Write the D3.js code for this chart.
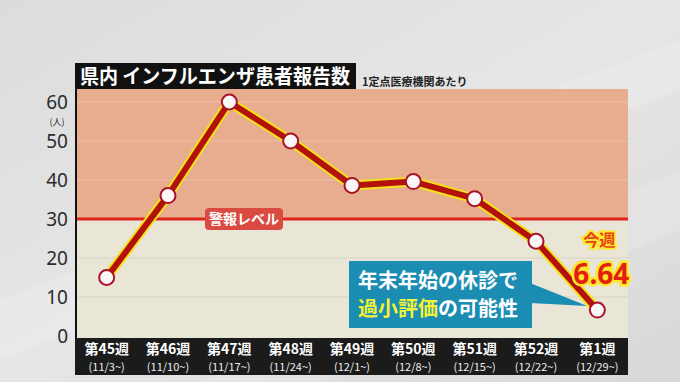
<!DOCTYPE html>
<html>
<head>
<meta charset="utf-8">
<script src="https://cdn.jsdelivr.net/npm/d3@7"></script>
<style>
  body { margin: 0; }
  svg { display: block; font-family: "Noto Sans CJK JP", "Noto Sans", sans-serif; }
</style>
</head>
<body>
<div id="chart"></div>
<script>
const weeks = ['第45週', '第46週', '第47週', '第48週', '第49週', '第50週', '第51週', '第52週', '第1週']
const dates = ['(11/3~)', '(11/10~)', '(11/17~)', '(11/24~)', '(12/1~)', '(12/8~)', '(12/15~)', '(12/22~)', '(12/29~)']
const cases = [15, 36, 60, 50, 38.6, 39.6, 35.2, 24.3, 6.64]
const yTicks = [0, 10, 20, 30, 40, 50, 60]
const alertLevel = 30

const W = 680, H = 382
const plot = {left: 76, right: 628, top: 89, bottom: 338}

const svg = d3.select('#chart').append('svg')
  .attr('width', W).attr('height', H)

const defs = svg.append('defs')
const bg = defs.append('linearGradient').attr('id', 'bg')
  .attr('x1', 0).attr('y1', 0).attr('x2', 1).attr('y2', 1)
bg.append('stop').attr('offset', 0).attr('stop-color', '#dcdcdc')
bg.append('stop').attr('offset', 0.5).attr('stop-color', '#e6e6e6')
bg.append('stop').attr('offset', 1).attr('stop-color', '#d8d8d8')

svg.append('rect').attr('width', W).attr('height', H).attr('fill', 'url(#bg)')
// soft diagonal streaks in the backdrop
svg.append('path').attr('d', 'M0,300 L680,40 L680,90 L0,360 Z').attr('fill', '#fff').attr('opacity', 0.18)
svg.append('path').attr('d', 'M200,382 L680,170 L680,230 L320,382 Z').attr('fill', '#fff').attr('opacity', 0.15)

const x = d3.scaleBand()
  .domain(weeks)
  .range([plot.left, plot.right])

const y = d3.scaleLinear()
  .domain([0, 60])
  .range([336, 102])

// background bands
svg.append('rect')
  .attr('x', plot.left).attr('width', plot.right - plot.left)
  .attr('y', plot.top).attr('height', y(alertLevel) - plot.top)
  .attr('fill', '#e8ad8f')
svg.append('rect')
  .attr('x', plot.left).attr('width', plot.right - plot.left)
  .attr('y', y(alertLevel)).attr('height', plot.bottom - y(alertLevel))
  .attr('fill', '#e9e5d7')

// gridlines
svg.append('g')
  .selectAll('line')
  .data(yTicks.filter(t => t !== 0 && t !== alertLevel))
  .join('line')
  .attr('x1', plot.left).attr('x2', plot.right)
  .attr('y1', d => y(d)).attr('y2', d => y(d))
  .attr('stroke', d => d > alertLevel ? '#eebfa6' : '#d9d5c6')
  .attr('stroke-width', 1.2)

// alert line
svg.append('line')
  .attr('x1', plot.left).attr('x2', plot.right)
  .attr('y1', y(alertLevel)).attr('y2', y(alertLevel))
  .attr('stroke', '#e0231b').attr('stroke-width', 3)

const alertG = svg.append('g').attr('transform', `translate(244, ${y(alertLevel)})`)
alertG.append('rect')
  .attr('x', -39).attr('y', -11).attr('width', 78).attr('height', 22).attr('rx', 4)
  .attr('fill', '#d94a40')
alertG.append('text')
  .attr('text-anchor', 'middle').attr('dy', '0.36em')
  .attr('fill', '#fff').attr('font-size', 14).attr('font-weight', 700)
  .text('警報レベル')

// y axis
const leftAxis = d3.axisLeft(y).tickValues(yTicks).tickSize(0).tickPadding(8)
const yAxisG = svg.append('g').attr('transform', `translate(${plot.left}, 0)`).call(leftAxis)
yAxisG.select('.domain').remove()
yAxisG.selectAll('text')
  .attr('font-size', 19).attr('fill', '#2b2b2b')
  .attr('font-family', '"Noto Sans", sans-serif')
svg.append('text')
  .attr('x', 57).attr('y', 125).attr('text-anchor', 'middle')
  .attr('font-size', 9).attr('fill', '#2b2b2b')
  .text('(人)')
svg.append('line')
  .attr('x1', plot.left).attr('x2', plot.left)
  .attr('y1', plot.top).attr('y2', plot.bottom)
  .attr('stroke', '#111').attr('stroke-width', 2)

// x label bar
svg.append('rect')
  .attr('x', plot.left - 1).attr('y', plot.bottom)
  .attr('width', plot.right - plot.left + 1).attr('height', 37)
  .attr('fill', '#1b1b1b')
const xg = svg.append('g').selectAll('g')
  .data(weeks)
  .join('g')
  .attr('transform', d => `translate(${x(d) + x.bandwidth() / 2}, 0)`)
xg.append('text')
  .attr('y', 354).attr('text-anchor', 'middle')
  .attr('fill', '#fff').attr('font-size', 14).attr('font-weight', 700)
  .text(d => d)
xg.append('text')
  .attr('y', 370.5).attr('text-anchor', 'middle')
  .attr('fill', '#eee').attr('font-size', 11)
  .text((d, i) => dates[i])

// title
svg.append('rect')
  .attr('x', 75).attr('y', 63).attr('width', 281).attr('height', 26)
  .attr('fill', '#111')
svg.append('text')
  .attr('x', 80).attr('y', 84)
  .attr('fill', '#fff').attr('font-size', 20).attr('font-weight', 700)
  .attr('textLength', 270).attr('lengthAdjust', 'spacingAndGlyphs')
  .text('県内 インフルエンザ患者報告数')
svg.append('text')
  .attr('x', 362).attr('y', 86)
  .attr('fill', '#222').attr('font-size', 11).attr('font-weight', 700)
  .text('1定点医療機関あたり')

// callout
const callout = svg.append('g')
callout.append('path')
  .attr('d', `M530,283 L${x(weeks[8]) + x.bandwidth() / 2 - 10},${y(cases[8]) - 4} L530,303 Z`)
  .attr('fill', '#1b8db3')
callout.append('rect')
  .attr('x', 349).attr('y', 261).attr('width', 183).attr('height', 67)
  .attr('fill', '#1b8db3')
callout.append('text')
  .attr('x', 358).attr('y', 288)
  .attr('fill', '#fff').attr('font-size', 20).attr('font-weight', 700)
  .text('年末年始の休診で')
const l2 = callout.append('text')
  .attr('x', 358).attr('y', 316)
  .attr('font-size', 20).attr('font-weight', 700)
l2.append('tspan').attr('fill', '#f2f238').text('過小評価')
l2.append('tspan').attr('fill', '#fff').text('の可能性')

// line
const line = d3.line()
  .x((d, i) => x(weeks[i]) + x.bandwidth() / 2)
  .y(d => y(d))

svg.append('path').datum(cases)
  .attr('d', line)
  .attr('fill', 'none').attr('stroke', '#f5e21a')
  .attr('stroke-width', 10).attr('stroke-linejoin', 'round')
svg.append('path').datum(cases)
  .attr('d', line)
  .attr('fill', 'none').attr('stroke', '#b3120c')
  .attr('stroke-width', 6).attr('stroke-linejoin', 'round')

svg.append('g').selectAll('circle')
  .data(cases)
  .join('circle')
  .attr('cx', (d, i) => x(weeks[i]) + x.bandwidth() / 2)
  .attr('cy', d => y(d))
  .attr('r', 7.5)
  .attr('fill', '#fbf7f7').attr('stroke', '#a8122a').attr('stroke-width', 2)

// current week label
const lastX = x(weeks[8]) + x.bandwidth() / 2
svg.append('text')
  .attr('x', lastX + 2).attr('y', 246).attr('text-anchor', 'middle')
  .attr('font-size', 16).attr('font-weight', 700)
  .attr('fill', '#e8401a').attr('stroke', '#ffe629').attr('stroke-width', 4)
  .attr('paint-order', 'stroke')
  .text('今週')
svg.append('text')
  .attr('x', lastX + 4).attr('y', 284).attr('text-anchor', 'middle')
  .attr('font-size', 28).attr('font-weight', 700)
  .attr('font-family', '"Noto Sans", sans-serif')
  .attr('fill', '#e3200f').attr('stroke', '#ffe629').attr('stroke-width', 5)
  .attr('paint-order', 'stroke')
  .text(cases[8].toFixed(2))
</script>
</body>
</html>
